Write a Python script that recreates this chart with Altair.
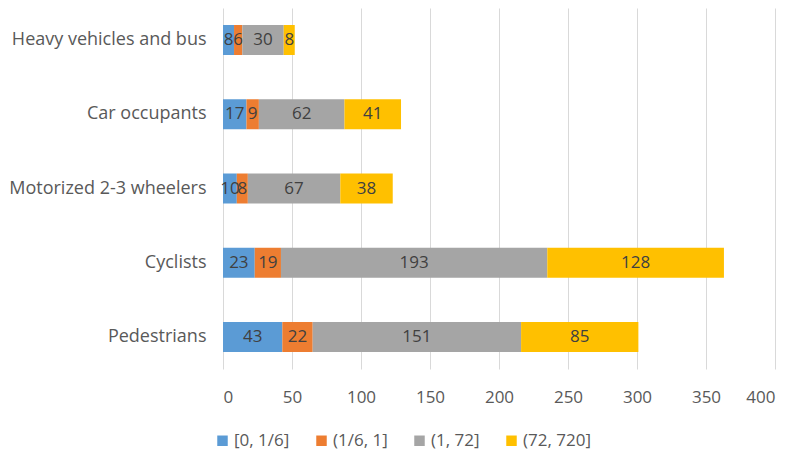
import altair as alt
import pandas as pd

categories = ["Heavy vehicles and bus", "Car occupants", "Motorized 2-3 wheelers", "Cyclists", "Pedestrians"]
intervals = ["[0, 1/6]", "(1/6, 1]", "(1, 72]", "(72, 720]"]
colors = ["#5B9BD5", "#ED7D31", "#A5A5A5", "#FFC000"]
v_0_16 = [8, 17, 10, 23, 43]
v_16_1 = [6, 9, 8, 19, 22]
v_1_72 = [30, 62, 67, 193, 151]
v_72_720 = [8, 41, 38, 128, 85]

series = [v_0_16, v_16_1, v_1_72, v_72_720]
rows = []
for k, (iv, vals) in enumerate(zip(intervals, series)):
    for c, v in zip(categories, vals):
        rows.append({"category": c, "interval": iv, "order": k, "value": v})
df = pd.DataFrame(rows)

FONT = "Open Sans"

base = alt.Chart(df).transform_stack(
    stack="value", groupby=["category"], as_=["x0", "x1"],
    sort=[alt.SortField("order", order="ascending")]
).transform_calculate(mid="(datum.x0 + datum.x1) / 2")

y_enc = alt.Y("category:N", sort=categories, title=None,
              scale=alt.Scale(paddingInner=0.596, paddingOuter=0.229),
              axis=alt.Axis(labelFontSize=18, labelColor="#595959", labelFont=FONT,
                            domain=False, ticks=False, labelPadding=17, labelLimit=300))

bars = base.mark_bar().encode(
    x=alt.X("x0:Q", title=None,
            scale=alt.Scale(domain=[0, 400], nice=False),
            axis=alt.Axis(values=[0, 50, 100, 150, 200, 250, 300, 350, 400],
                          labelFontSize=17, labelColor="#595959", labelFont=FONT,
                          domain=False, ticks=False, grid=True, gridColor="#d9d9d9",
                          labelPadding=20)),
    x2="x1:Q",
    y=y_enc,
    color=alt.Color("interval:N", sort=intervals,
                    scale=alt.Scale(domain=intervals, range=colors),
                    legend=alt.Legend(title=None, orient="none", direction="horizontal",
                                      legendX=-9, legendY=424, columns=4,
                                      symbolType="square", symbolSize=110,
                                      symbolStrokeWidth=0, labelFontSize=17,
                                      labelColor="#595959", labelFont=FONT,
                                      columnPadding=23, labelOffset=3)),
    order=alt.Order("order:Q"),
)

labels = base.mark_text(fontSize=17, color="#404040", font=FONT).encode(
    x="mid:Q",
    y=alt.Y("category:N", sort=categories),
    text="value:Q",
)

chart = (bars + labels).properties(
    width=552, height=361,
    autosize=alt.AutoSizeParams(type="none"),
    padding={"left": 215, "top": 0, "right": 17, "bottom": 84},
).configure_view(stroke=None)

chart.save("out.html", embed_options={"renderer": "svg", "actions": False})
